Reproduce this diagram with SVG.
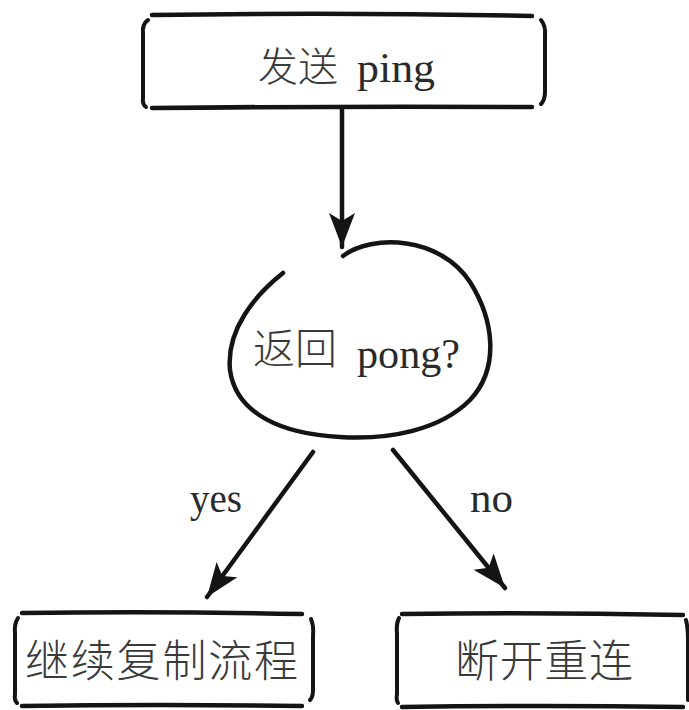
<svg xmlns="http://www.w3.org/2000/svg" width="689" height="710" viewBox="0 0 689 710">
<style>
.ln{fill:none;stroke:#141414;stroke-width:4.5;stroke-linecap:round;stroke-linejoin:round}
.br{fill:none;stroke:#141414;stroke-width:4;stroke-linecap:round}
.cn{font-family:"Noto Sans CJK SC","Noto Sans",sans-serif;fill:#3a3a3a;font-weight:300}
.lt{font-family:"Liberation Serif","DejaVu Serif",serif;fill:#2a2a2a}
</style>
<defs>
<marker id="ah" markerUnits="userSpaceOnUse" markerWidth="40" markerHeight="30" refX="34" refY="13" orient="auto">
<path d="M0,0 L34,13 L0,26 L8,13 Z" fill="#141414"/>
</marker>
</defs>
<rect width="689" height="710" fill="#fff"/>
<g id="node-send">
<path class="ln" d="M152,15 Q340,12 532,16"/>
<path class="ln" d="M152,108 Q340,106 532,107"/>
<path class="br" d="M148,20 Q142,24 143,34 L143,98 Q142,104 146,107"/>
<path class="br" d="M541,20 Q546,26 545,36 L545,92 Q545,100 541,104"/>
<text class="cn" x="258" y="81" font-size="40">发送</text>
<text class="lt" x="357" y="82" font-size="42" textLength="78" lengthAdjust="spacingAndGlyphs">ping</text>
</g>
<g id="node-check">
<path class="ln" d="M343,256 C372,234 440,236 470,282 C494,320 500,368 470,400 C440,430 390,440 340,437 C282,434 236,414 230,370 C226,330 255,295 283,273"/>
<text class="cn" x="253" y="364" font-size="42">返回</text>
<text class="lt" x="357" y="368" font-size="42" textLength="103" lengthAdjust="spacingAndGlyphs">pong?</text>
</g>
<g id="node-continue">
<path class="ln" d="M22,613 Q160,611 302,614"/>
<path class="ln" d="M22,706 Q160,704 302,706"/>
<path class="br" d="M18,618 Q14,624 15,634 L15,694 Q14,700 17,703"/>
<path class="br" d="M311,619 Q314,626 313,636 L313,690 Q313,697 310,700"/>
<text class="cn" x="25" y="677" font-size="44" textLength="273" lengthAdjust="spacing">继续复制流程</text>
</g>
<g id="node-reconnect">
<path class="ln" d="M402,614 Q540,612 683,615"/>
<path class="ln" d="M402,707 Q540,705 683,707"/>
<path class="br" d="M399,618 Q396,624 397,634 L397,694 Q396,700 398,703"/>
<path class="br" d="M686,620 Q688,628 688,640 L688,700"/>
<text class="cn" x="455" y="677" font-size="44" textLength="178" lengthAdjust="spacing">断开重连</text>
</g>
<g id="connectors">
<path class="ln" d="M342,108 L342,247" marker-end="url(#ah)"/>
<path class="ln" d="M313,452 L207,597" marker-end="url(#ah)"/>
<path class="ln" d="M393,450 L505,588" marker-end="url(#ah)"/>
<text class="lt" x="190" y="512" font-size="40" textLength="52" lengthAdjust="spacingAndGlyphs">yes</text>
<text class="lt" x="470" y="512" font-size="42" textLength="43" lengthAdjust="spacingAndGlyphs">no</text>
</g>
</svg>
